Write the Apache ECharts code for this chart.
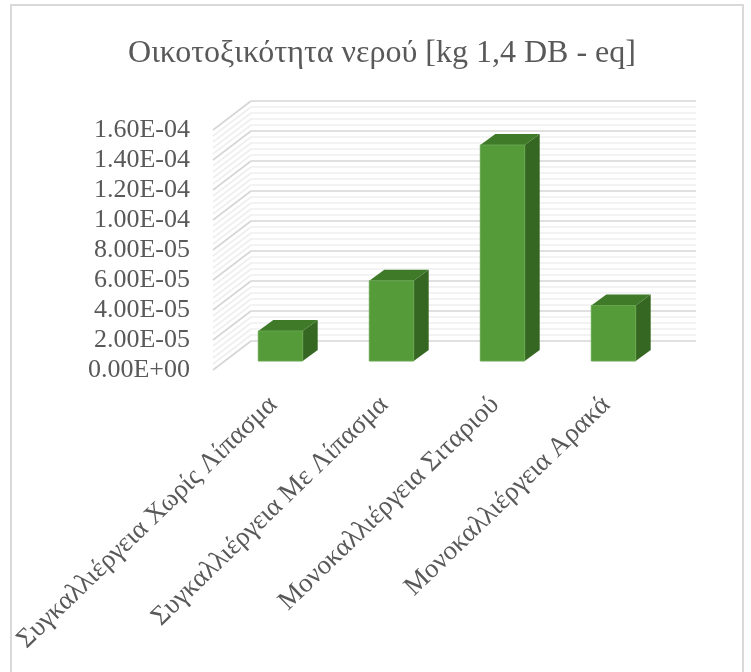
<!DOCTYPE html>
<html>
<head>
<meta charset="utf-8">
<title>Οικοτοξικότητα νερού</title>
<script src="https://cdn.jsdelivr.net/npm/echarts@6/dist/echarts.min.js"></script>
<style>
  html, body { margin: 0; padding: 0; background: #fff; }
  #chart { width: 751px; height: 672px; }
</style>
</head>
<body>
<div id="chart"></div>
<script>
const chartTitle = 'Οικοτοξικότητα νερού [kg 1,4 DB - eq]';
const categories = [
  'Συγκαλλιέργεια Χωρίς Λίπασμα',
  'Συγκαλλιέργεια Με Λίπασμα',
  'Μονοκαλλιέργεια Σιταριού',
  'Μονοκαλλιέργεια Αρακά'
];
const values = [2.0e-5, 5.35e-5, 1.44e-4, 3.7e-5];
const tickLabels = ['0.00E+00', '2.00E-05', '4.00E-05', '6.00E-05', '8.00E-05', '1.00E-04', '1.20E-04', '1.40E-04', '1.60E-04'];
const axisMax = 1.6e-4;
const axisStep = 2e-5;
const minorPerStep = 5;

// Extrusion of the bars and depth of the side wall, in pixels.
const BAR_DX = 15, BAR_DY = -11;
const WALL_DX = 38, WALL_DY = -29;

const FONT = '"Liberation Serif", "Times New Roman", serif';
const TEXT = '#595959';
const MAJOR = '#d6d6d6';
const MINOR = '#efefef';

// One entry per gridline on the slanted side wall, major and minor.
const wallTicks = [];
for (let i = 0; i <= (tickLabels.length - 1) * minorPerStep; i++) {
  wallTicks.push([(i * axisStep) / minorPerStep, i % minorPerStep === 0 ? 1 : 0]);
}

function renderWallLine(params, api) {
  const p = api.coord([0, api.value(0)]);
  const major = api.value(1) === 1;
  return {
    type: 'line',
    silent: true,
    z2: major ? 2 : 1,
    shape: { x1: p[0], y1: p[1], x2: p[0] + WALL_DX, y2: p[1] + WALL_DY },
    style: { stroke: major ? MAJOR : MINOR, lineWidth: 1.6 }
  };
}

function renderBar(params, api) {
  const top = api.coord([api.value(0), api.value(1)]);
  const base = api.coord([api.value(0), 0]);
  const w = api.size([1, 0])[0] * 0.4;
  const l = top[0] - w / 2, r = top[0] + w / 2;
  return {
    type: 'group',
    children: [
      {
        type: 'polygon',
        shape: { points: [[r, top[1]], [r + BAR_DX, top[1] + BAR_DY], [r + BAR_DX, base[1] + BAR_DY], [r, base[1]]] },
        style: { fill: '#366722' }
      },
      {
        type: 'polygon',
        shape: { points: [[l, top[1]], [l + BAR_DX, top[1] + BAR_DY], [r + BAR_DX, top[1] + BAR_DY], [r, top[1]]] },
        style: { fill: '#3f7a29' }
      },
      {
        type: 'rect',
        shape: { x: l, y: top[1], width: w, height: base[1] - top[1] },
        style: { fill: '#559b3a', stroke: '#66a54e', lineWidth: 1 }
      }
    ]
  };
}

const chart = echarts.init(document.getElementById('chart'), null, { renderer: 'canvas' });
chart.setOption({
  animation: false,
  backgroundColor: '#ffffff',
  title: {
    text: chartTitle,
    left: 377,
    top: 33,
    textAlign: 'center',
    textStyle: { fontFamily: FONT, fontSize: 32, fontWeight: 'normal', color: TEXT }
  },
  graphic: [{
    type: 'rect',
    silent: true,
    z: -1,
    shape: { x: 11, y: 5, width: 732, height: 700 },
    style: { fill: 'none', stroke: '#d9d9d9', lineWidth: 2 }
  }],
  grid: [
    // back wall
    { left: 251, top: 101, width: 445, height: 240, containLabel: false },
    // front edge of the side wall, carrying the value labels
    { left: 213, top: 130, width: 38, height: 240, containLabel: false },
    // plane of the bars' front faces
    { left: 225, top: 121, width: 444, height: 240, containLabel: false }
  ],
  xAxis: [
    { gridIndex: 0, type: 'value', min: 0, max: 1, show: false },
    { gridIndex: 1, type: 'value', min: 0, max: 1, show: false },
    {
      gridIndex: 2,
      type: 'category',
      data: categories,
      axisLine: { show: false },
      axisTick: { show: false },
      axisLabel: {
        interval: 0,
        rotate: 44,
        margin: 33,
        padding: [0, 10, 0, 0],
        fontFamily: FONT,
        fontSize: 27,
        color: TEXT
      }
    }
  ],
  yAxis: [
    {
      gridIndex: 0,
      type: 'value',
      min: 0,
      max: axisMax,
      interval: axisStep,
      axisLine: { show: false },
      axisTick: { show: false },
      axisLabel: { show: false },
      splitLine: { show: true, lineStyle: { color: MAJOR, width: 1.6 } },
      minorTick: { show: false, splitNumber: minorPerStep },
      minorSplitLine: { show: true, lineStyle: { color: MINOR, width: 1.6 } }
    },
    {
      gridIndex: 1,
      type: 'value',
      min: 0,
      max: axisMax,
      interval: axisStep,
      axisLine: { show: false },
      axisTick: { show: false },
      splitLine: { show: false },
      axisLabel: {
        margin: 23,
        fontFamily: FONT,
        fontSize: 26,
        color: TEXT,
        formatter: (value, index) => tickLabels[index]
      }
    },
    { gridIndex: 2, type: 'value', min: 0, max: axisMax, interval: axisStep, show: false }
  ],
  series: [
    {
      name: 'Side wall',
      type: 'custom',
      xAxisIndex: 1,
      yAxisIndex: 1,
      clip: false,
      silent: true,
      renderItem: renderWallLine,
      encode: { y: 0 },
      data: wallTicks,
      z: 1
    },
    {
      name: 'Οικοτοξικότητα νερού',
      type: 'custom',
      xAxisIndex: 2,
      yAxisIndex: 2,
      clip: false,
      renderItem: renderBar,
      encode: { x: 0, y: 1 },
      data: values.map((v, i) => [i, v]),
      z: 5
    }
  ]
});
</script>
</body>
</html>
